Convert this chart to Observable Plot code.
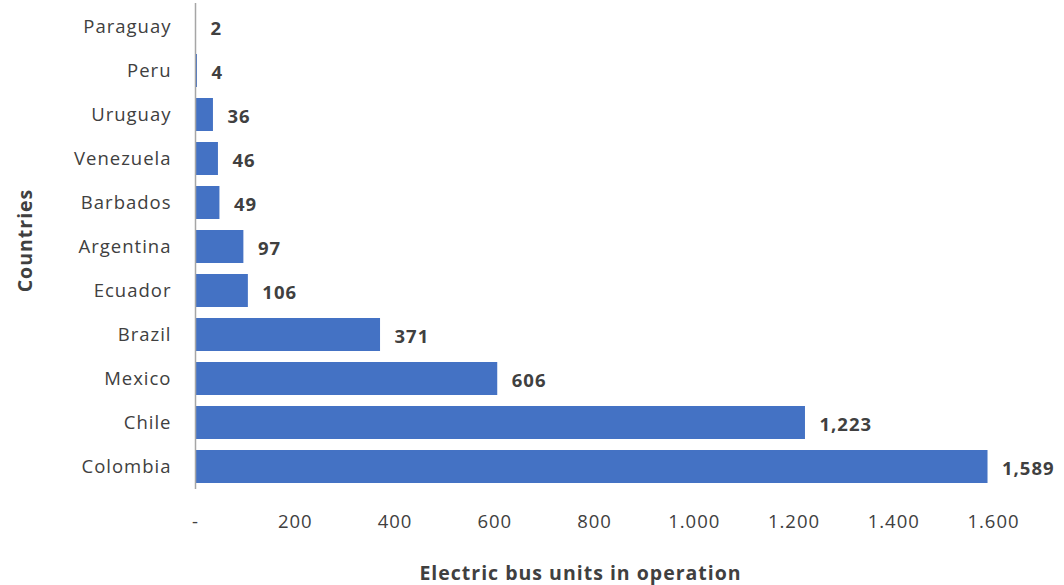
<!DOCTYPE html>
<html>
<head>
<meta charset="utf-8">
<script src="https://cdn.jsdelivr.net/npm/d3@7"></script>
<script src="https://cdn.jsdelivr.net/npm/@observablehq/plot@0.6"></script>
<style>
  html, body { margin: 0; padding: 0; background: #fff; }
  #chart { width: 1064px; height: 585px; }
  svg { font-family: "Open Sans", sans-serif; letter-spacing: 1px; }
</style>
</head>
<body>
<div id="chart"></div>
<script>
// Electric bus units in operation by country
const countries = ["Paraguay", "Peru", "Uruguay", "Venezuela", "Barbados", "Argentina",
                   "Ecuador", "Brazil", "Mexico", "Chile", "Colombia"];
const units = [2, 4, 36, 46, 49, 97, 106, 371, 606, 1223, 1589];
const xTicks = [0, 200, 400, 600, 800, 1000, 1200, 1400, 1600];

const data = countries.map((country, i) => ({country, units: units[i]}));

const textColor = "#404040";
const dotThousands = d3.formatLocale({decimal: ",", thousands: ".", grouping: [3]}).format(",");
const commaThousands = d3.format(",");

const chart = Plot.plot({
  width: 1064,
  height: 585,
  marginLeft: 195,
  marginRight: 71,
  marginTop: 3,
  marginBottom: 96,
  style: {fontSize: "18.5px", color: textColor, fontFamily: "'Open Sans', sans-serif", letterSpacing: "1px"},
  x: {domain: [0, 1600]},
  y: {domain: countries, paddingInner: 0.25, paddingOuter: 0.125},
  marks: [
    Plot.barX(data, {x: "units", y: "country", fill: "#4472C4"}),
    Plot.ruleX([0], {stroke: "#a6a6a6", strokeWidth: 1.5}),
    Plot.axisY({tickSize: 0, tickPadding: 24, label: null, fill: textColor}),
    Plot.axisX({ticks: xTicks, tickSize: 0, tickPadding: 25, label: null, fill: textColor,
                tickFormat: (d) => d === 0 ? "-" : dotThousands(d)}),
    Plot.text(data, {x: "units", y: "country", text: (d) => commaThousands(d.units),
                     textAnchor: "start", dx: 14, dy: 2, fontWeight: "bold", fill: textColor}),
    Plot.text(["Electric bus units in operation"], {frameAnchor: "bottom", lineAnchor: "middle",
                     dx: -14, dy: 84, fontWeight: "bold", fill: textColor, fontSize: 19.5}),
    Plot.text(["Countries"], {frameAnchor: "left", textAnchor: "middle", lineAnchor: "middle",
                     dx: -170, dy: -6, rotate: -90, fontWeight: "bold", fill: textColor, fontSize: 19.5})
  ]
});
document.getElementById("chart").appendChild(chart);
</script>
</body>
</html>
